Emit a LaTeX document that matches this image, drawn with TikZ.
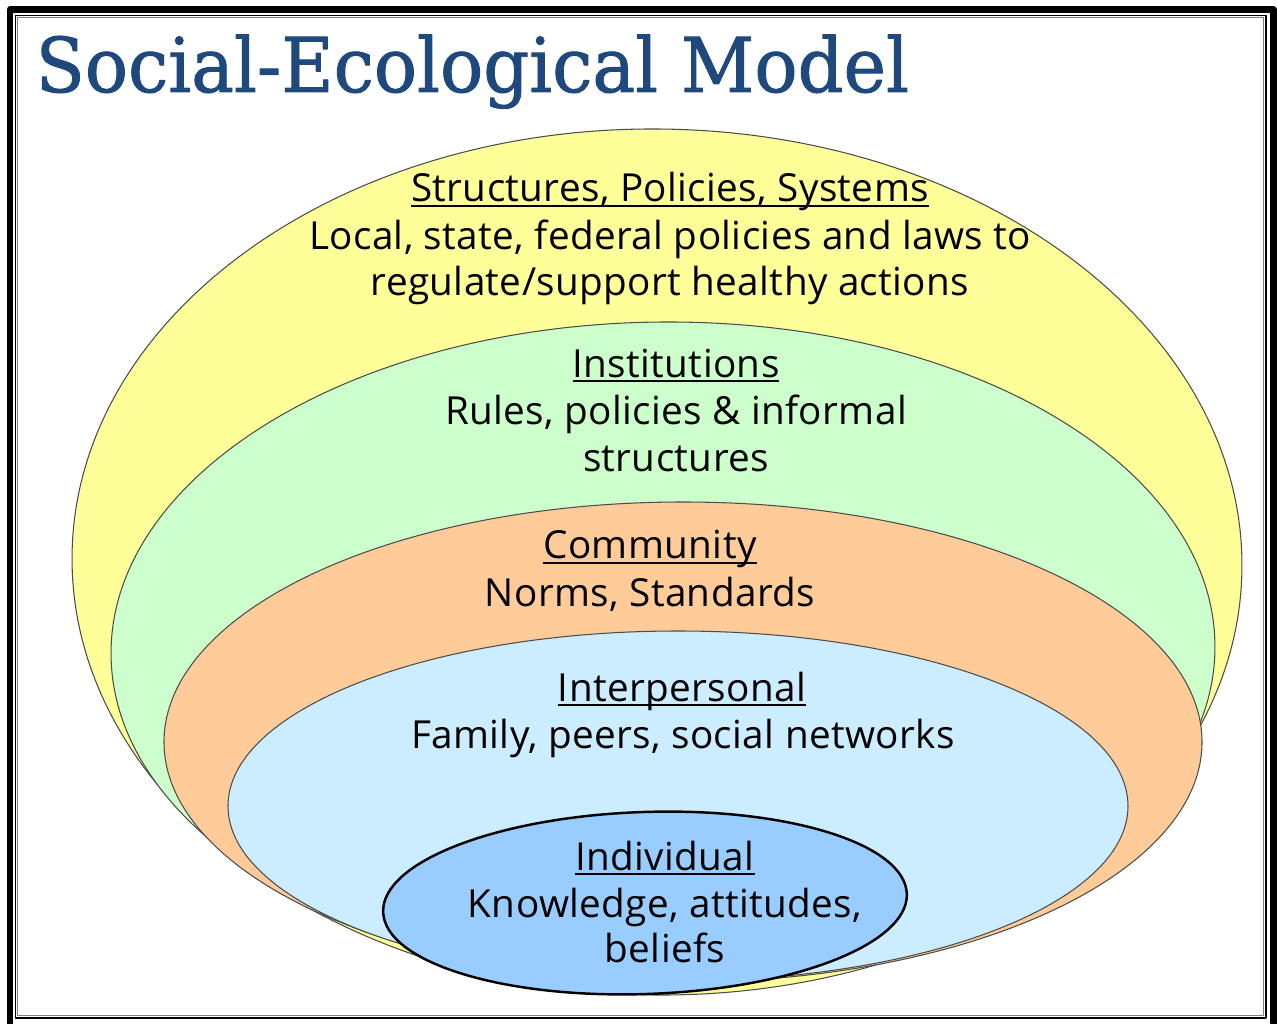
\documentclass[tikz,border=0pt]{standalone}
\usepackage{fontspec}
\setmainfont[LetterSpace=1]{Open Sans}
\newfontfamily\titlefont[FakeStretch=0.95, FakeBold=1.2]{DejaVu Serif}
\definecolor{titleblue}{RGB}{31,73,125}
\definecolor{polyellow}{RGB}{255,255,153}
\definecolor{instgreen}{RGB}{204,255,204}
\definecolor{commorange}{RGB}{255,204,153}
\definecolor{interblue}{RGB}{204,236,255}
\definecolor{indivblue}{RGB}{153,204,255}
% underline at a fixed depth, through the descenders
\newcommand{\ulhead}[1]{\setbox0\hbox{#1}\rlap{\rule[-0.13em]{\wd0}{0.06em}}\box0}
\begin{document}
\begin{tikzpicture}[x=0.1mm, y=-0.1mm, line join=round]
	\tikzset{
		layer/.style={draw=black!70, line width=0.3pt},
		layer_txt/.style={anchor=base, inner sep=0pt, font=\fontsize{11}{13}\selectfont},
		title_txt/.style={anchor=base west, inner sep=0pt, text=titleblue, font=\titlefont\fontsize{21.5}{24}\selectfont}
	}
	\useasboundingbox (0,0) rectangle (1277,1024);
	% frame
	\draw[line width=0.65mm] (10,9.5) rectangle (1273.5,1030);
	\draw[line width=0.15mm] (15.6,15.6) rectangle (1265.8,1018);
	\draw[gray, line width=0.1mm] (17.8,17.8) rectangle (1263.4,1015.6);
	\node[title_txt] (title) at (35,92) {Social-Ecological Model};
	% the five levels, outermost first
	\draw[layer, fill=polyellow, rotate around={-0.7:(657,562)}] (657,562) ellipse [x radius=585, y radius=433];
	\draw[layer, fill=instgreen, rotate around={0.5:(663,650)}] (663,650) ellipse [x radius=552, y radius=328];
	\draw[layer, fill=commorange] (683,742) ellipse [x radius=519, y radius=240];
	\draw[layer, fill=interblue] (678,806) ellipse [x radius=450, y radius=175];
	\draw[line width=0.7pt, fill=indivblue, rotate around={2:(645,903)}] (645,903) ellipse [x radius=262, y radius=91];
	\foreach \nm/\xx/\yy/\txt in {
		pol_head/670/202/{\ulhead{Structures, Policies, Systems}},
		pol_a/670/250/{Local, state, federal policies and laws to},
		pol_b/670/296/{regulate/support healthy actions},
		inst_head/676/377/{\ulhead{Institutions}},
		inst_a/676/424/{Rules, policies \& informal},
		inst_b/676/471/{structures},
		comm_head/650/559/{\ulhead{Community}},
		comm_a/650/606/{Norms, Standards},
		inter_head/682/701/{\ulhead{Interpersonal}},
		inter_a/683/748/{Family, peers, social networks},
		indiv_head/665/870/{\ulhead{Individual}},
		indiv_a/665/917/{Knowledge, attitudes,},
		indiv_b/665/962/{beliefs}}
		\node[layer_txt] (\nm) at (\xx,\yy) {\txt};
\end{tikzpicture}
\end{document}
